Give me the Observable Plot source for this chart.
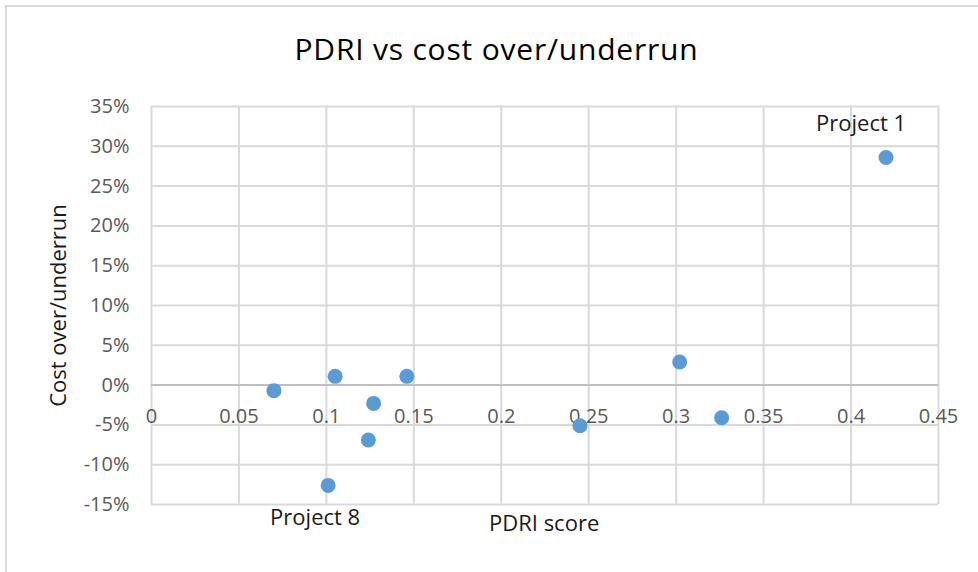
<!DOCTYPE html>
<html>
<head>
<meta charset="utf-8">
<script src="https://cdn.jsdelivr.net/npm/d3@7"></script>
<script src="https://cdn.jsdelivr.net/npm/@observablehq/plot@0.6"></script>
<style>
  html, body { margin: 0; padding: 0; background: #fff; overflow: hidden; }
  body { width: 978px; height: 572px; position: relative; font-family: "Open Sans", sans-serif; }
  #frame { position: absolute; left: 5px; top: 5px; width: 1100px; height: 700px;
           border-left: 2px solid #d9d9d9; border-top: 2px solid #d9d9d9; pointer-events: none; }
  #title { position: absolute; left: 0; top: 0; width: 978px; height: 80px; box-sizing: border-box;
           padding-left: 15px; text-align: center; font-size: 30px; letter-spacing: 0.8px; line-height: 30px; padding-top: 34px; color: #000; }
  #chart { position: absolute; left: 0; top: 80px; }
</style>
</head>
<body>
<div id="frame"></div>
<div id="title">PDRI vs cost over/underrun</div>
<div id="chart"></div>
<script>
// Data
const projects = ["Project 1","Project 2","Project 3","Project 4","Project 5","Project 6","Project 7","Project 8","Project 9","Project 10"];
const pdriScore = [0.420, 0.302, 0.326, 0.245, 0.146, 0.105, 0.127, 0.101, 0.124, 0.070];
const costOverrun = [28.6, 2.9, -4.1, -5.1, 1.1, 1.1, -2.3, -12.6, -6.9, -0.7];
const labelAbove = ["Project 1"];
const labelBelow = ["Project 8"];
const xTicks = [0, 0.05, 0.1, 0.15, 0.2, 0.25, 0.3, 0.35, 0.4, 0.45];
const xTickLabels = ["0", "0.05", "0.1", "0.15", "0.2", "0.25", "0.3", "0.35", "0.4", "0.45"];
const yTicks = [-15, -10, -5, 0, 5, 10, 15, 20, 25, 30, 35];

const data = projects.map((p, i) => ({project: p, x: pdriScore[i], y: costOverrun[i]}));
const aboveData = data.filter(d => labelAbove.includes(d.project));
const belowData = data.filter(d => labelBelow.includes(d.project));
const xTickData = xTicks.map((v, i) => ({v, label: xTickLabels[i]}));

const chart = Plot.plot({
  width: 978,
  height: 492,
  marginTop: 26,
  marginBottom: 68,
  marginLeft: 151,
  marginRight: 40,
  style: {fontFamily: "Open Sans, sans-serif", background: "transparent", overflow: "visible"},
  x: {domain: [0, 0.45]},
  y: {domain: [-15, 35]},
  marks: [
    Plot.gridX(xTicks, {stroke: "#d9d9d9", strokeOpacity: 1, strokeWidth: 2}),
    Plot.gridY(yTicks, {stroke: "#d9d9d9", strokeOpacity: 1, strokeWidth: 2}),
    Plot.ruleY([0], {stroke: "#bfbfbf", strokeWidth: 2}),
    Plot.axisX({ticks: [], label: null, tickSize: 0}),
    Plot.axisY({
      ticks: yTicks, tickFormat: d => d + "%", tickSize: 0, tickPadding: 22,
      fontSize: 20, color: "#595959", label: null
    }),
    Plot.text(["Cost over/underrun"], {frameAnchor: "left", textAnchor: "middle", dx: -93, rotate: -90, fontSize: 22, fill: "#1a1a1a"}),
    Plot.text(xTickData, {x: "v", y: () => 0, text: "label", dy: 31, fontSize: 20, fill: "#595959"}),
    Plot.text(["PDRI score"], {frameAnchor: "bottom", x: () => 0.2245, dy: 26, fontSize: 22, fill: "#1a1a1a"}),
    Plot.dot(data, {x: "x", y: "y", r: 7.5, fill: "#5B9BD5", stroke: "none"}),
    Plot.text(aboveData, {x: "x", y: "y", text: "project", fontSize: 22, fill: "#1a1a1a", dx: -25, dy: -33}),
    Plot.text(belowData, {x: "x", y: "y", text: "project", fontSize: 22, fill: "#1a1a1a", dx: -13, dy: 33})
  ]
});
document.getElementById("chart").appendChild(chart);
</script>
</body>
</html>
